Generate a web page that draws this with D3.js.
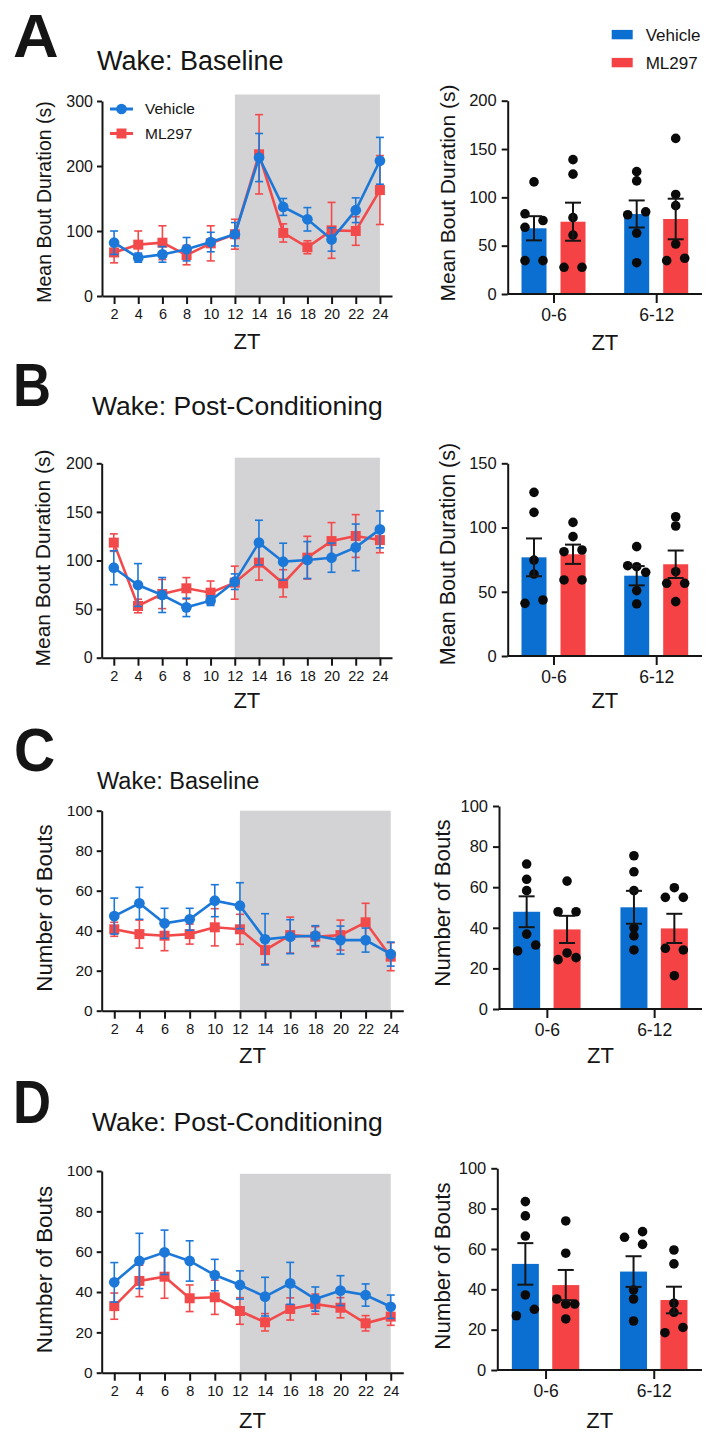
<!DOCTYPE html>
<html><head><meta charset="utf-8">
<script src="https://cdn.jsdelivr.net/npm/d3@7"></script>
<style>
body{margin:0;background:#fff}
text{font-family:"Liberation Sans",Arial,Helvetica,sans-serif;fill:#151515}
</style>
</head><body>
<svg id="fig" width="706" height="1435"></svg>
<script>
// ---------------- DATA ----------------
const ZT = [2,4,6,8,10,12,14,16,18,20,22,24];
const DARK = [12, 24];
const WINDOWS = ["0-6","6-12"];
const GROUPS = ["Vehicle","ML297"];

// Panel A – Wake: Baseline, mean bout duration (s)
const aVehLine = [82, 59, 64, 72, 83, 95, 213, 137, 118, 87, 132, 208];
const aVehLineSem = [18, 7, 12, 18, 15, 18, 37, 13, 18, 18, 19, 36];
const aMlLine = [67, 79, 82, 63, 81, 95, 218, 97, 75, 101, 100, 163];
const aMlLineSem = [16, 21, 26, 15, 27, 23, 61, 14, 10, 43, 22, 53];
const aVehBar = [68, 82.8], aVehBarSem = [12.5, 14];
const aMlBar = [74.8, 77.6], aMlBarSem = [19.7, 21];
const aVehDots = [[116,83,76,69,34.5,34.5],[126.6,117,82,85,63,32.4]];
const aMlDots = [[139,124,79,61,27.6,27.6],[161,103,91.4,51.7,34.5,37]];

// Panel B – Wake: Post-Conditioning, mean bout duration (s)
const bVehLine = [92.6, 74.8, 64.5, 51.8, 58.7, 78.2, 118.4, 98.8, 100.5, 102.9, 113.5, 132];
const bVehLineSem = [17.5, 22, 18, 9.5, 5, 8, 23, 19, 19, 15, 24, 19];
const bMlLine = [118.4, 53.2, 65.5, 71.4, 66.9, 77.2, 97.8, 76.5, 102.9, 120, 125.2, 121];
const bMlLineSem = [9, 7, 15, 11, 12, 17, 18, 14, 22, 19, 22, 13];
const bVehBar = [76.8, 62.5], bVehBarSem = [14.7, 7.5];
const bMlBar = [79.2, 71.4], bMlBarSem = [7.5, 10.7];
const bVehDots = [[127.4,111.8,74.7,63.8,41,43.6],[85.1,70.3,69.5,65.1,50.9,40.5]];
const bMlDots = [[104,92.9,81.2,82.5,59.2,59.2],[108.4,101.2,65.6,56.6,56.6,42.3]];

// Panel C – Wake: Baseline, number of bouts
const cVehLine = [47.3, 53.7, 43.7, 45.7, 55, 52.5, 35.7, 37, 37.5, 35.3, 35.3, 28.3];
const cVehLineSem = [9, 8, 7.5, 5.5, 8, 11.5, 12.8, 8.5, 5, 7, 6, 6];
const cMlLine = [40.7, 38.3, 37.5, 38.3, 41.7, 40.7, 30.3, 37.8, 37, 37.8, 44.2, 27];
const cMlLineSem = [3.5, 7, 7.5, 5, 9.3, 7.5, 7, 9, 5, 7.5, 9.5, 7];
const cVehBar = [47.9, 50.1], cVehBarSem = [7.6, 8.1];
const cMlBar = [39.2, 39.7], cMlBarSem = [6.7, 7.2];
const cVehDots = [[71.4,63.9,58.3,36.9,28.6,31.5],[75.5,67.6,58.3,40,36,29.1]];
const cMlDots = [[63,47.9,47.9,24.3,27.6,25.3],[59.75,55,55,29.9,29.1,16.4]];

// Panel D – Wake: Post-Conditioning, number of bouts
const dVehLine = [44.8, 55.4, 59.7, 55.4, 48.4, 43.5, 37.7, 44.3, 36.5, 40.7, 38.5, 32.7];
const dVehLineSem = [9.8, 13.7, 11, 10, 7.8, 7, 9.6, 10.4, 6, 7.4, 5.5, 5.8];
const dMlLine = [33, 45.5, 47.6, 36.9, 37.4, 30.6, 25, 31.6, 34, 32.2, 24.5, 27.8];
const dMlLineSem = [6.5, 7.8, 10.7, 6.6, 8.5, 6.6, 4.3, 5.5, 5, 5, 3.8, 4.3];
const dVehBar = [52.6, 48.8], dVehBarSem = [10.3, 7.6];
const dMlBar = [42.1, 34.7], dMlBarSem = [7.5, 6.6];
const dVehDots = [[83.5,76.4,66.4,37.2,26.9,30.1],[65.8,68.6,62.3,39.7,35.2,24.3]];
const dMlDots = [[73.9,57.9,35.2,32.7,32.7,25.3],[59.5,52.6,33.1,28.6,18.5,21.1]];

const TICKS_300 = [0,100,200,300];
const TICKS_200 = [0,50,100,150,200];
const TICKS_150 = [0,50,100,150];
const TICKS_100 = [0,20,40,60,80,100];

// ---------------- STYLE ----------------
const BLUE_BAR = "#0a6fd1", RED_BAR = "#f54245";
const BLUE_LINE = "#1c78d8", RED_LINE = "#f24a4b";
const GREY = "#d3d3d5", INK = "#151515";

const svg = d3.select("#fig");
svg.append("rect").attr("width",706).attr("height",1435).attr("fill","#fff");

function styleAxis(g, fs){
  g.select(".domain").attr("stroke", INK).attr("stroke-width", 2);
  g.selectAll(".tick line").attr("stroke", INK).attr("stroke-width", 2);
  g.selectAll(".tick text").attr("font-size", fs).attr("fill", INK)
    .style("font-family", '"Liberation Sans",Arial,sans-serif');
}

function drawLine(L, veh, vehE, ml, mlE, opts){
  const g = svg.append("g");
  const x = d3.scaleLinear().domain([1,25]).range([L.x0, L.x1]);
  const y = d3.scaleLinear().domain([0, L.yMax]).range([L.y0, L.yTop]);
  g.append("rect").attr("x", x(DARK[0])).attr("width", x(DARK[1]) - x(DARK[0]))
    .attr("y", y(L.shadeTop)).attr("height", y(0) - y(L.shadeTop)).attr("fill", GREY);

  const series = [
    {m: ml, e: mlE, color: RED_LINE, sym: d3.symbolSquare, size: 100},
    {m: veh, e: vehE, color: BLUE_LINE, sym: d3.symbolCircle, size: 90}
  ];
  series.forEach(s => {
    const pts = ZT.map((z,i) => ({z, m: s.m[i], e: s.e[i]}));
    const eg = g.append("g").attr("stroke", s.color).attr("stroke-width", 1.6);
    eg.selectAll("line.v").data(pts).join("line")
      .attr("x1", d => x(d.z)).attr("x2", d => x(d.z))
      .attr("y1", d => y(d.m - d.e)).attr("y2", d => y(d.m + d.e));
    eg.selectAll("line.t").data(pts).join("line")
      .attr("x1", d => x(d.z) - 4).attr("x2", d => x(d.z) + 4)
      .attr("y1", d => y(d.m + d.e)).attr("y2", d => y(d.m + d.e));
    eg.selectAll("line.b").data(pts).join("line")
      .attr("x1", d => x(d.z) - 4).attr("x2", d => x(d.z) + 4)
      .attr("y1", d => y(d.m - d.e)).attr("y2", d => y(d.m - d.e));
    g.append("path").datum(pts)
      .attr("d", d3.line().x(d => x(d.z)).y(d => y(d.m)))
      .attr("fill","none").attr("stroke", s.color).attr("stroke-width", 2.6);
    g.selectAll(null).data(pts).join("path")
      .attr("transform", d => `translate(${x(d.z)},${y(d.m)})`)
      .attr("d", d3.symbol().type(s.sym).size(s.size)).attr("fill", s.color);
  });

  const ya = g.append("g").attr("transform", `translate(${L.x0},0)`)
    .call(d3.axisLeft(y).tickValues(L.ticks).tickSize(5).tickSizeOuter(0).tickPadding(4));
  styleAxis(ya, L.yfs);
  const xa = g.append("g").attr("transform", `translate(0,${L.y0})`)
    .call(d3.axisBottom(x).tickValues(ZT).tickSize(8).tickSizeOuter(0).tickPadding(5));
  styleAxis(xa, 14.5);

  g.append("text").attr("transform", `translate(${L.labX},${L.labY}) rotate(-90)`)
    .attr("text-anchor","middle").attr("font-size", L.labFs).text(L.label);
  g.append("text").attr("x", x(13)).attr("y", L.ztY).attr("text-anchor","middle")
    .attr("font-size", 22).text("ZT");

  if (opts && opts.legend){
    const lg = g.append("g");
    const items = [{n: GROUPS[0], c: BLUE_LINE, sym: d3.symbolCircle, size: 90},
                   {n: GROUPS[1], c: RED_LINE, sym: d3.symbolSquare, size: 100}];
    items.forEach((it,i) => {
      const yy = opts.legend.y + i*opts.legend.dy;
      lg.append("line").attr("x1", opts.legend.x).attr("x2", opts.legend.x + 23)
        .attr("y1", yy).attr("y2", yy).attr("stroke", it.c).attr("stroke-width", 3);
      lg.append("path").attr("transform", `translate(${opts.legend.x + 11.5},${yy})`)
        .attr("d", d3.symbol().type(it.sym).size(it.size)).attr("fill", it.c);
      lg.append("text").attr("x", opts.legend.x + 35).attr("y", yy).attr("dy","0.35em")
        .attr("font-size", 15.5).text(it.n);
    });
  }
}

function dotOffsets(vals, y, thr, u){
  const n = vals.length, py = vals.map(v => y(v));
  const order = d3.range(n).sort((a,b) => vals[a] - vals[b]);
  const clusters = []; let cur = [order[0]];
  for (let k = 1; k < n; k++){
    if (Math.abs(py[order[k]] - py[order[k-1]]) < thr) cur.push(order[k]);
    else { clusters.push(cur); cur = [order[k]]; }
  }
  clusters.push(cur);
  const off = new Array(n).fill(0);
  clusters.forEach(cl => {
    if (cl.length < 2) return;
    const span = Math.abs(py[cl[0]] - py[cl[cl.length-1]]);
    const dataOrder = cl.slice().sort((a,b) => a - b);
    if (span < thr){
      const m = dataOrder.length, step = m === 2 ? 2*u : u;
      dataOrder.forEach((i,k) => off[i] = (k - (m-1)/2) * step);
    } else {
      const pos = cl.indexOf(dataOrder[0]);
      cl.forEach((i,k) => off[i] = ((k - pos) % 2 === 0) ? -u : u);
    }
  });
  return off;
}

function drawBar(B, vehM, vehE, mlM, mlE, vehDots, mlDots, opts){
  const g = svg.append("g");
  const xc = d3.scalePoint().domain(WINDOWS).range([B.x0, B.x1]).padding(0.446);
  const groupW = 2*B.bw + B.gap;
  const xs = d3.scaleBand().domain(GROUPS).range([-groupW/2, groupW/2]).paddingInner(B.gap/(B.bw + B.gap));
  const y = d3.scaleLinear().domain([0, B.yMax]).range([B.y0, B.yTop]);
  const sets = [
    {grp: GROUPS[0], m: vehM, e: vehE, dots: vehDots, c: BLUE_BAR},
    {grp: GROUPS[1], m: mlM, e: mlE, dots: mlDots, c: RED_BAR}
  ];
  sets.forEach(s => {
    const rows = WINDOWS.map((w,i) => ({w, m: s.m[i], e: s.e[i], dots: s.dots[i]}));
    g.selectAll(null).data(rows).join("rect")
      .attr("x", d => xc(d.w) + xs(s.grp)).attr("width", xs.bandwidth())
      .attr("y", d => y(d.m)).attr("height", d => y(0) - y(d.m)).attr("fill", s.c);
  });
  sets.forEach(s => {
    WINDOWS.forEach((w,i) => {
      const cx = xc(w) + xs(s.grp) + xs.bandwidth()/2;
      const vals = s.dots[i];
      const off = dotOffsets(vals, y, 7.5, 9);
      g.selectAll(null).data(vals).join("circle")
        .attr("cx", (d,k) => cx + off[k]).attr("cy", d => y(d)).attr("r", 4.8).attr("fill", "#0a0a0a");
      const m = s.m[i], e = s.e[i];
      const eg = g.append("g").attr("stroke", INK).attr("stroke-width", 2);
      eg.append("line").attr("x1", cx).attr("x2", cx).attr("y1", y(m - e)).attr("y2", y(m + e));
      eg.append("line").attr("x1", cx - 8).attr("x2", cx + 8).attr("y1", y(m + e)).attr("y2", y(m + e));
      eg.append("line").attr("x1", cx - 8).attr("x2", cx + 8).attr("y1", y(m - e)).attr("y2", y(m - e));
    });
  });
  const ya = g.append("g").attr("transform", `translate(${B.x0},0)`)
    .call(d3.axisLeft(y).tickValues(B.ticks).tickSize(6).tickSizeOuter(0).tickPadding(5));
  styleAxis(ya, 16.5);
  const xa = g.append("g").attr("transform", `translate(0,${B.y0})`)
    .call(d3.axisBottom(xc).tickSize(9).tickSizeOuter(0).tickPadding(6));
  xa.select(".domain").attr("d", `M${B.x0},0H${B.x1}`);
  styleAxis(xa, 17.5);

  g.append("text").attr("transform", `translate(${B.labX},${B.labY}) rotate(-90)`)
    .attr("text-anchor","middle").attr("font-size", B.labFs).text(B.label);
  g.append("text").attr("x", (xc(WINDOWS[0]) + xc(WINDOWS[1]))/2).attr("y", B.ztY)
    .attr("text-anchor","middle").attr("font-size", 22).text("ZT");

  if (opts && opts.legend){
    const items = [{n: GROUPS[0], c: BLUE_BAR},{n: GROUPS[1], c: RED_BAR}];
    items.forEach((it,i) => {
      const yy = opts.legend.y + i*opts.legend.dy;
      g.append("rect").attr("x", opts.legend.x).attr("y", yy - 4.7).attr("width", 21).attr("height", 9.4).attr("fill", it.c);
      g.append("text").attr("x", opts.legend.x + 34).attr("y", yy).attr("dy","0.35em")
        .attr("font-size", 17).text(it.n);
    });
  }
}

function panelHead(letter, lx, ly, sx, title, tx, ty, tfs){
  svg.append("text").attr("transform", `translate(${lx},${ly}) scale(${sx},1)`)
    .attr("font-size", 62).attr("font-weight", "bold").attr("fill","#000").text(letter);
  svg.append("text").attr("x", tx).attr("y", ty).attr("font-size", tfs).text(title);
}

const DUR = "Mean Bout Duration (s)", NUM = "Number of Bouts";

// ---------------- PANEL A ----------------
panelHead("A", 13, 56.5, 1.02, "Wake: Baseline", 97, 69.5, 27);
drawLine({x0:102, x1:392, y0:296, yTop:101, yMax:300, ticks:TICKS_300, shadeTop:310, yfs:16,
  label:DUR, labX:50.5, labY:202, labFs:19.5, ztY:349},
  aVehLine, aVehLineSem, aMlLine, aMlLineSem, {legend:{x:110, y:109, dy:24.5}});
drawBar({x0:507.7, x1:702, y0:294, yTop:100.7, yMax:200, ticks:TICKS_200, bw:25, gap:14,
  label:DUR, labX:455, labY:193, labFs:21, ztY:350},
  aVehBar, aVehBarSem, aMlBar, aMlBarSem, aVehDots, aMlDots, {legend:{x:611.7, y:34.6, dy:28}});

// ---------------- PANEL B ----------------
panelHead("B", 13, 406, 0.85, "Wake: Post-Conditioning", 92, 415, 26.5);
drawLine({x0:101.7, x1:392, y0:657.7, yTop:463.3, yMax:200, ticks:TICKS_200, shadeTop:205.8, yfs:16,
  label:DUR, labX:50, labY:558, labFs:21, ztY:708},
  bVehLine, bVehLineSem, bMlLine, bMlLineSem);
drawBar({x0:507.7, x1:702, y0:656, yTop:463.3, yMax:150, ticks:TICKS_150, bw:25, gap:14,
  label:DUR, labX:455, labY:554, labFs:21.5, ztY:708},
  bVehBar, bVehBarSem, bMlBar, bMlBarSem, bVehDots, bMlDots);

// ---------------- PANEL C ----------------
panelHead("C", 14, 771, 0.92, "Wake: Baseline", 97, 789, 23.5);
drawLine({x0:101.7, x1:403.3, y0:1010.7, yTop:810.7, yMax:100, ticks:TICKS_100, shadeTop:100, yfs:15.5,
  label:NUM, labX:51.5, labY:908, labFs:22.3, ztY:1063},
  cVehLine, cVehLineSem, cMlLine, cMlLineSem);
drawBar({x0:499, x1:702, y0:1009, yTop:806, yMax:100, ticks:TICKS_100, bw:27, gap:13.4,
  label:NUM, labX:450, labY:903, labFs:22.3, ztY:1063},
  cVehBar, cVehBarSem, cMlBar, cMlBarSem, cVehDots, cMlDots);

// ---------------- PANEL D ----------------
panelHead("D", 13, 1123, 0.85, "Wake: Post-Conditioning", 92, 1131, 26.5);
drawLine({x0:101.7, x1:403.3, y0:1372.7, yTop:1171, yMax:100, ticks:TICKS_100, shadeTop:98.6, yfs:15.5,
  label:NUM, labX:51.5, labY:1269.5, labFs:22.3, ztY:1428},
  dVehLine, dVehLineSem, dMlLine, dMlLineSem);
drawBar({x0:497.3, x1:702, y0:1370, yTop:1168.3, yMax:100, ticks:TICKS_100, bw:27, gap:13.4,
  label:NUM, labX:450, labY:1266, labFs:22.3, ztY:1428},
  dVehBar, dVehBarSem, dMlBar, dMlBarSem, dVehDots, dMlDots);
</script>
</body></html>
